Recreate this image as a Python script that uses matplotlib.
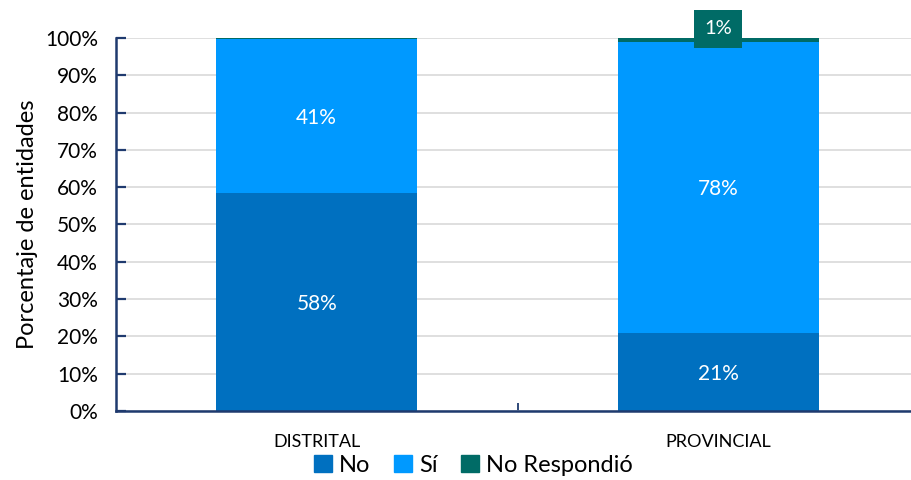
import matplotlib
matplotlib.use("Agg")
import matplotlib.pyplot as plt
from matplotlib.ticker import PercentFormatter, MultipleLocator
from matplotlib.patches import Patch

plt.rcParams['font.family'] = ['Lato', 'DejaVu Sans']

# datos
categorias = ["DISTRITAL", "PROVINCIAL"]
series = ["No", "Sí", "No Respondió"]
no_vals = [58.4, 20.9]
si_vals = [41.3, 78.1]
nr_vals = [0.3, 1.0]
colores = ["#0070C0", "#0099FF", "#006B66"]

fig = plt.figure(figsize=(9.12, 4.8), dpi=100)
ax = fig.add_axes([0.127, 0.144, 0.881, 0.777])

x = list(range(len(categorias)))
ancho = 0.5
base = [0.0] * len(categorias)
for nombre, vals, col in zip(series, [no_vals, si_vals, nr_vals], colores):
    bars = ax.bar(x, vals, ancho, bottom=base, color=col, label=nombre, zorder=2)
    for i, (b, v) in enumerate(zip(bars, vals)):
        if v < 0.5:
            continue
        if nombre == "No Respondió":
            # etiqueta en caja sobre la barra
            ax.text(b.get_x() + b.get_width() / 2, 102.4, f"{v:.0f}%", ha='center', va='center',
                    color='white', fontsize=14.5, zorder=4, clip_on=False,
                    bbox=dict(boxstyle='square,pad=0.5', fc=col, ec='none'))
        else:
            ax.text(b.get_x() + b.get_width() / 2, base[i] + v / 2 - 0.5, f"{v:.0f}%", ha='center',
                    va='center', color='white', fontsize=15, zorder=3)
    base = [a + v for a, v in zip(base, vals)]

ax.set_xlim(-0.5, 1.5)
ax.set_ylim(0, 100)
ax.yaxis.set_major_locator(MultipleLocator(10))
ax.yaxis.set_major_formatter(PercentFormatter(decimals=0))
ax.grid(axis='y', color='#D9D9D9', linewidth=1.2, zorder=0)

ax.set_xticks([0.5], minor=False)
ax.set_xticklabels([""])
ax.set_xticks(x, minor=True)
ax.set_xticklabels(categorias, minor=True, fontsize=13)
ax.tick_params(axis='x', which='minor', length=0, pad=17)
ax.tick_params(axis='x', which='major', direction='in', length=6, width=1.3, color='#1F3A6E')
ax.tick_params(axis='y', direction='in', length=7, width=1.6, color='#1F3A6E', labelsize=15, pad=13)

for s in ['top', 'right']:
    ax.spines[s].set_visible(False)
ax.spines['left'].set_color('#1F3A6E')
ax.spines['left'].set_linewidth(1.8)
ax.spines['bottom'].set_color('#1F3A6E')
ax.spines['bottom'].set_linewidth(1.8)

ax.set_ylabel("Porcentaje de entidades", fontsize=17, labelpad=5)

handles = [Patch(color=c) for c in colores]
fig.legend(handles, series, loc='lower center', bbox_to_anchor=(0.519, -0.035), ncol=3, frameon=False,
           fontsize=17, handlelength=0.75, handleheight=0.75, handletextpad=0.3, columnspacing=1.0)

fig.savefig("out.png", dpi=100)
